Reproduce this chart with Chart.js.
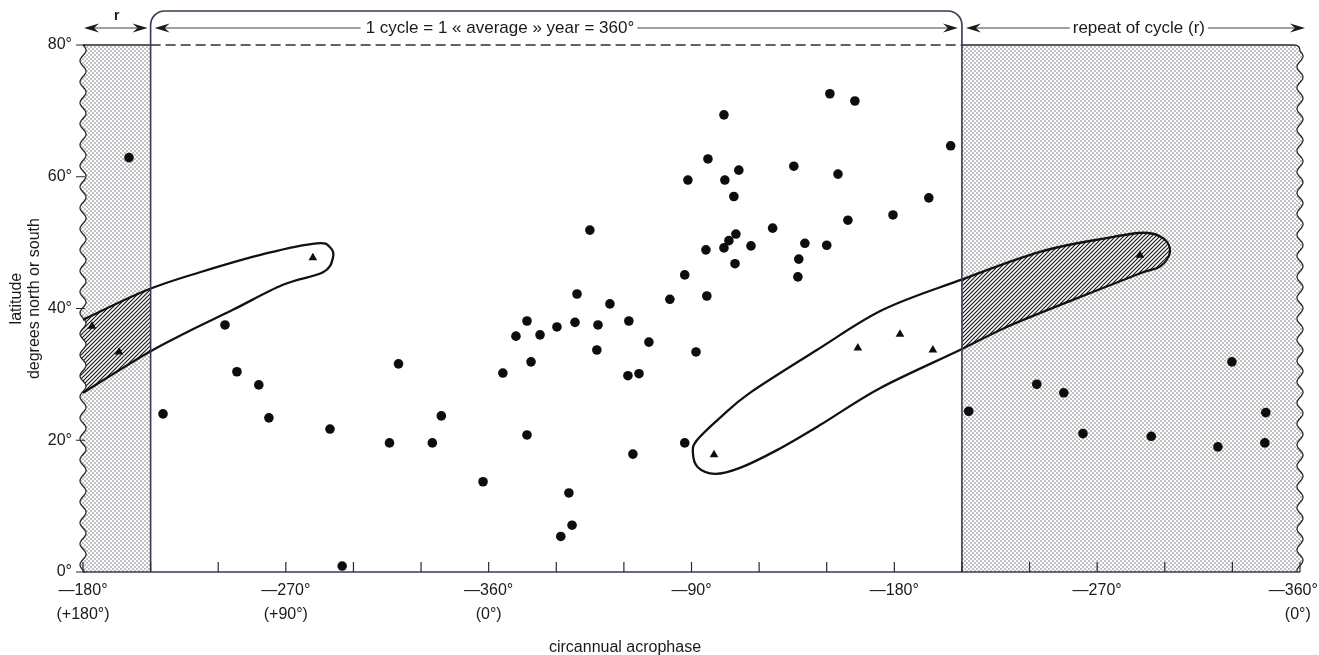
<!DOCTYPE html>
<html>
<head>
<meta charset="utf-8">
<script src="https://cdn.jsdelivr.net/npm/chart.js@4.4.0/dist/chart.umd.min.js"></script>
<style>
  html, body { margin: 0; padding: 0; background: #ffffff; }
  #wrap { width: 1319px; height: 655px; }
</style>
</head>
<body>
<div id="wrap"><canvas id="chart" width="1319" height="655"></canvas></div>
<script>
// Acrophase is plotted on a running scale: 180 = -180°, 360 = -360° (0°), 450 = -90°, 720 = -360° again.
// Circles: individual studies (acrophase, latitude in degrees north or south)
const circlePhase = [
  200.4,
  215.5, 243.0, 248.3, 258.0, 262.5, 289.6, 295.0, 316.0, 320.0, 335.0, 339.0, 357.5,
  366.3, 372.1, 377.0, 377.0, 378.8, 382.8, 390.3, 392.0, 395.6, 397.0, 398.3, 399.2,
  404.9, 408.0, 408.5, 413.8, 421.8, 422.2, 424.0, 426.7, 431.1, 440.4, 447.0, 447.0,
  448.4, 452.0, 456.4, 456.8, 457.3, 464.4, 464.4, 464.8, 466.6, 468.8, 469.3, 469.7,
  471.0, 476.4, 486.0, 495.4, 497.2, 497.6, 500.3, 510.0, 511.4, 515.0, 519.4, 522.5,
  539.4, 555.3, 565.0,
  573.0, 603.2, 615.2, 623.7, 654.0, 683.6, 689.8, 704.8, 704.4
];
const circleLat = [
  62.9,
  24.0, 37.5, 30.4, 28.4, 23.4, 21.7, 0.9, 19.6, 31.6, 19.6, 23.7, 13.7,
  30.2, 35.8, 38.1, 20.8, 31.9, 36.0, 37.2, 5.4, 12.0, 7.1, 37.9, 42.2,
  51.9, 33.7, 37.5, 40.7, 29.8, 38.1, 17.9, 30.1, 34.9, 41.4, 45.1, 19.6,
  59.5, 33.4, 48.9, 41.9, 62.7, 69.4, 49.2, 59.5, 50.3, 57.0, 46.8, 51.3,
  61.0, 49.5, 52.2, 61.6, 44.8, 47.5, 49.9, 49.6, 72.6, 60.4, 53.4, 71.5,
  54.2, 56.8, 64.7,
  24.4, 28.5, 27.2, 21.0, 20.6, 19.0, 31.9, 24.2, 19.6
];

// Triangles: the separate group enclosed by the loops
const trianglePhase = [184.0, 196.0, 282.0, 460.0, 523.8, 542.5, 557.1, 649.0];
const triangleLat   = [37.3, 33.4, 47.7, 17.8, 34.0, 36.1, 33.7, 48.1];

// Loop enclosing the triangles, western part (open at the left edge of the plot)
const loopWestPhase = [180.0, 208.4, 231.9, 261.6, 283.8, 289.6, 290.9, 286.5, 268.7, 246.5, 226.1, 208.4, 180.0];
const loopWestLat   = [38.3, 42.8, 45.5, 48.4, 49.9, 49.3, 47.7, 45.5, 43.6, 39.8, 36.4, 33.2, 27.2];

// Loop enclosing the triangles, eastern part (closed)
const loopEastPhase = [450.6, 452.4, 462.6, 475.9, 505.6, 534.9, 569.1, 604.6, 634.3, 651.0, 659.5, 662.3, 658.0, 648.0, 619.2, 589.9, 569.1, 533.6, 507.0, 487.9, 471.5, 460.4, 452.8];
const loopEastLat   = [18.2, 20.0, 23.4, 27.2, 33.7, 39.8, 44.3, 48.6, 50.7, 51.5, 50.6, 48.6, 46.4, 45.2, 41.3, 37.2, 33.7, 27.9, 22.3, 18.5, 15.8, 14.9, 15.9];

// Axis ticks and labels (the last one carries trailing spaces so it stays inside the canvas)
const phaseMin = 180, phaseMax = 720, phaseStep = 30;
const cycleStart = 210, cycleEnd = 570;
const phaseTickValues = [180, 270, 360, 450, 540, 630, 720];
const phaseTickLabels = [
  ['\u2014180\u00b0', '(+180\u00b0)'],
  ['\u2014270\u00b0', '(+90\u00b0)'],
  ['\u2014360\u00b0', '(0\u00b0)'],
  ['\u201490\u00b0'],
  ['\u2014180\u00b0'],
  ['\u2014270\u00b0'],
  ['\u2014360\u00b0\u00a0\u00a0\u00a0', '(0\u00b0)\u00a0']
];
const latTicks = [0, 20, 40, 60, 80];
const cycleText = '1 cycle = 1 \u00ab average \u00bb year = 360\u00b0';
const repeatText = 'repeat of cycle (r)';
const xTitle = 'circannual acrophase';
const yTitle = ['latitude', 'degrees north or south'];

const FONT = '"Liberation Sans", Arial, Helvetica, sans-serif';
const INK = '#1a1a1a';
const FRAME = '#343a4e';

function toPoints(xs, ys) { return xs.map((v, i) => ({ x: v, y: ys[i] })); }

// Fill patterns: stipple for the repeated ranges, diagonal hatch where the loop crosses them
function makeStipple() {
  const c = document.createElement('canvas'); c.width = 4; c.height = 4;
  const g = c.getContext('2d');
  g.fillStyle = '#ffffff'; g.fillRect(0, 0, 4, 4);
  g.fillStyle = '#62646f';
  g.beginPath(); g.arc(1, 1, 0.72, 0, Math.PI * 2); g.fill();
  g.beginPath(); g.arc(3, 3, 0.72, 0, Math.PI * 2); g.fill();
  return c;
}
function makeHatch() {
  const s = 4;
  const c = document.createElement('canvas'); c.width = s; c.height = s;
  const g = c.getContext('2d');
  g.fillStyle = '#ffffff'; g.fillRect(0, 0, s, s);
  g.strokeStyle = '#1a1a1a'; g.lineWidth = 1.2;
  g.beginPath();
  g.moveTo(0, s); g.lineTo(s, 0);
  g.moveTo(-1, 1); g.lineTo(1, -1);
  g.moveTo(s - 1, s + 1); g.lineTo(s + 1, s - 1);
  g.stroke();
  return c;
}

// Smooth curve through points (Catmull-Rom as cubic Béziers)
function splinePath(ctx, pts, closed) {
  const n = pts.length;
  const get = i => closed ? pts[(i + n) % n] : pts[Math.max(0, Math.min(n - 1, i))];
  ctx.moveTo(pts[0].x, pts[0].y);
  const segs = closed ? n : n - 1;
  for (let i = 0; i < segs; i++) {
    const p0 = get(i - 1), p1 = get(i), p2 = get(i + 1), p3 = get(i + 2);
    const k = 1 / 6;
    ctx.bezierCurveTo(
      p1.x + (p2.x - p0.x) * k, p1.y + (p2.y - p0.y) * k,
      p2.x - (p3.x - p1.x) * k, p2.y - (p3.y - p1.y) * k,
      p2.x, p2.y);
  }
  if (closed) ctx.closePath();
}

const WAVE_A = 3, WAVE_P = 21;
function wave(yy, y0) { return WAVE_A * Math.sin(2 * Math.PI * (yy - y0) / WAVE_P); }

function westRegion(ctx, X, Y) {
  const x0 = X(phaseMin), x1 = X(cycleStart), y0 = Y(80), y1 = Y(0);
  ctx.beginPath();
  ctx.moveTo(x1, y0);
  ctx.lineTo(x0, y0);
  for (let yy = y0; yy <= y1; yy += 1) ctx.lineTo(x0 + wave(yy, y0), yy);
  ctx.lineTo(x1, y1);
  ctx.closePath();
}
function eastRegion(ctx, X, Y) {
  const x0 = X(cycleEnd), x1 = X(phaseMax), y0 = Y(80), y1 = Y(0), r = 6;
  ctx.beginPath();
  ctx.moveTo(x0, y0);
  ctx.lineTo(x1 - r, y0);
  ctx.quadraticCurveTo(x1, y0, x1, y0 + r);
  for (let yy = y0 + r; yy <= y1; yy += 1) ctx.lineTo(x1 + wave(yy, y0 + r), yy);
  ctx.lineTo(x0, y1);
  ctx.closePath();
}

function arrowHead(ctx, x, y, dir) {
  // dir = +1 points right, -1 points left
  ctx.beginPath();
  ctx.moveTo(x, y);
  ctx.lineTo(x - dir * 15, y - 4.5);
  ctx.lineTo(x - dir * 10, y);
  ctx.lineTo(x - dir * 15, y + 4.5);
  ctx.closePath();
  ctx.fill();
}

let stipple = null, hatch = null;

const backdrop = {
  id: 'backdrop',
  beforeDatasetsDraw(chart) {
    const ctx = chart.ctx;
    const xs = chart.scales.x, ys = chart.scales.y;
    const X = v => xs.getPixelForValue(v), Y = v => ys.getPixelForValue(v);
    const { top, bottom } = chart.chartArea;
    if (!stipple) { stipple = ctx.createPattern(makeStipple(), 'repeat'); hatch = ctx.createPattern(makeHatch(), 'repeat'); }

    ctx.save();
    // stippled repeat ranges
    ctx.fillStyle = stipple;
    westRegion(ctx, X, Y); ctx.fill();
    eastRegion(ctx, X, Y); ctx.fill();

    const west = toPoints(loopWestPhase, loopWestLat).map(p => ({ x: X(p.x), y: Y(p.y) }));
    const east = toPoints(loopEastPhase, loopEastLat).map(p => ({ x: X(p.x), y: Y(p.y) }));

    // hatched part of the loops inside the repeat ranges
    ctx.save();
    westRegion(ctx, X, Y); ctx.clip();
    ctx.beginPath();
    splinePath(ctx, west, false);
    const edge = X(phaseMin) - 10;
    ctx.lineTo(edge, west[west.length - 1].y);
    ctx.lineTo(edge, west[0].y);
    ctx.closePath();
    ctx.fillStyle = hatch; ctx.fill();
    ctx.restore();

    ctx.save();
    eastRegion(ctx, X, Y); ctx.clip();
    ctx.beginPath(); splinePath(ctx, east, true);
    ctx.fillStyle = hatch; ctx.fill();
    ctx.restore();

    // wavy outer edges
    ctx.strokeStyle = '#2a2a2a'; ctx.lineWidth = 1.3;
    const y0 = Y(80), y1 = Y(0);
    ctx.beginPath();
    for (let yy = y0; yy <= y1; yy += 1) {
      const px = X(phaseMin) + wave(yy, y0);
      if (yy === y0) ctx.moveTo(px, yy); else ctx.lineTo(px, yy);
    }
    ctx.stroke();
    ctx.beginPath();
    const xr = X(phaseMax);
    ctx.moveTo(X(cycleEnd), y0);
    ctx.lineTo(xr - 6, y0);
    ctx.quadraticCurveTo(xr, y0, xr, y0 + 6);
    for (let yy = y0 + 6; yy <= y1; yy += 1) ctx.lineTo(xr + wave(yy, y0 + 6), yy);
    ctx.stroke();
    ctx.beginPath(); ctx.moveTo(X(phaseMin), y0); ctx.lineTo(X(cycleStart), y0); ctx.stroke();

    // loop outlines
    ctx.strokeStyle = '#111111'; ctx.lineWidth = 2.3; ctx.lineJoin = 'round';
    ctx.beginPath(); splinePath(ctx, west, false); ctx.stroke();
    ctx.beginPath(); splinePath(ctx, east, true); ctx.stroke();

    // cycle frame with rounded top corners
    const boxTop = top - 34, rad = 14;
    const xa = X(cycleStart), xb = X(cycleEnd);
    ctx.strokeStyle = FRAME; ctx.lineWidth = 1.6;
    ctx.beginPath();
    ctx.moveTo(xa, bottom);
    ctx.lineTo(xa, boxTop + rad);
    ctx.arcTo(xa, boxTop, xa + rad, boxTop, rad);
    ctx.lineTo(xb - rad, boxTop);
    ctx.arcTo(xb, boxTop, xb, boxTop + rad, rad);
    ctx.lineTo(xb, bottom);
    ctx.stroke();

    // dashed 80° line across the cycle
    ctx.setLineDash([10, 5]); ctx.lineWidth = 1.3; ctx.strokeStyle = '#2c2f3c';
    ctx.beginPath(); ctx.moveTo(xa, Y(80)); ctx.lineTo(xb, Y(80)); ctx.stroke();
    ctx.setLineDash([]);

    // x axis line and inward tick marks
    ctx.strokeStyle = FRAME; ctx.lineWidth = 1.7;
    ctx.beginPath(); ctx.moveTo(X(phaseMin), bottom); ctx.lineTo(X(phaseMax), bottom); ctx.stroke();
    ctx.lineWidth = 1.2; ctx.strokeStyle = '#2a2a2a';
    ctx.beginPath();
    xs.ticks.forEach(t => { const px = X(t.value); ctx.moveTo(px, bottom); ctx.lineTo(px, bottom - 10); });
    ctx.stroke();
    // y tick marks on the wavy edge
    ctx.beginPath();
    latTicks.forEach(v => { const py = Y(v); ctx.moveTo(X(phaseMin) - 7, py); ctx.lineTo(X(phaseMin) + 2, py); });
    ctx.stroke();
    ctx.restore();
  },
  afterDraw(chart) {
    const ctx = chart.ctx;
    const xs = chart.scales.x, ys = chart.scales.y;
    const X = v => xs.getPixelForValue(v);
    const { top, bottom } = chart.chartArea;
    const ay = top - 17;
    ctx.save();
    ctx.textBaseline = 'middle';
    ctx.fillStyle = INK;
    ctx.strokeStyle = '#3c4058'; ctx.lineWidth = 1.2;

    // r : width of the repeated range
    const r0 = X(phaseMin) + 1, r1 = X(cycleStart) - 3;
    ctx.beginPath(); ctx.moveTo(r0 + 8, ay); ctx.lineTo(r1 - 8, ay); ctx.stroke();
    arrowHead(ctx, r0, ay, -1); arrowHead(ctx, r1, ay, 1);
    ctx.textAlign = 'center';
    ctx.font = 'bold 14px ' + FONT;
    ctx.fillText('r', (r0 + r1) / 2 + 1, ay - 12);

    // one full cycle
    ctx.font = '17px ' + FONT;
    const c0 = X(cycleStart) + 4, c1 = X(cycleEnd) - 4;
    const cx = X(365);
    const cw = ctx.measureText(cycleText).width;
    ctx.fillText(cycleText, cx, ay);
    ctx.beginPath();
    ctx.moveTo(c0 + 8, ay); ctx.lineTo(cx - cw / 2 - 5, ay);
    ctx.moveTo(cx + cw / 2 + 3, ay); ctx.lineTo(c1 - 8, ay);
    ctx.stroke();
    arrowHead(ctx, c0, ay, -1); arrowHead(ctx, c1, ay, 1);

    // repeat of cycle
    const e0 = X(cycleEnd) + 4, e1 = X(phaseMax) + 5;
    const ex = X(648.5);
    const ew = ctx.measureText(repeatText).width;
    ctx.fillText(repeatText, ex, ay);
    ctx.beginPath();
    ctx.moveTo(e0 + 8, ay); ctx.lineTo(ex - ew / 2 - 3, ay);
    ctx.moveTo(ex + ew / 2 + 3, ay); ctx.lineTo(e1 - 8, ay);
    ctx.stroke();
    arrowHead(ctx, e0, ay, -1); arrowHead(ctx, e1, ay, 1);

    // axis titles
    ctx.font = '16px ' + FONT;
    ctx.fillText(xTitle, X(420.5), bottom + 76);
    ctx.save();
    ctx.translate(17, ys.getPixelForValue(41.5));
    ctx.rotate(-Math.PI / 2);
    ctx.fillText(yTitle[0], 0, 0);
    ctx.fillText(yTitle[1], 0, 18);
    ctx.restore();
    ctx.restore();
  }
};

new Chart(document.getElementById('chart'), {
  type: 'scatter',
  data: {
    datasets: [
      {
        label: 'circles',
        data: toPoints(circlePhase, circleLat),
        pointStyle: 'circle',
        pointRadius: 4.8,
        pointHoverRadius: 4.8,
        backgroundColor: '#0d0d0d',
        borderColor: '#0d0d0d',
        borderWidth: 0
      },
      {
        label: 'triangles',
        data: toPoints(trianglePhase, triangleLat),
        pointStyle: 'triangle',
        pointRadius: 5,
        pointHoverRadius: 5,
        backgroundColor: '#0d0d0d',
        borderColor: '#0d0d0d',
        borderWidth: 0
      }
    ]
  },
  options: {
    responsive: false,
    animation: false,
    devicePixelRatio: 1,
    layout: { padding: { top: 45, right: 19, left: 0, bottom: 0 } },
    plugins: { legend: { display: false }, tooltip: { enabled: false } },
    scales: {
      x: {
        type: 'linear',
        min: phaseMin,
        max: phaseMax,
        afterBuildTicks: s => {
          const t = [];
          for (let v = phaseMin; v <= phaseMax; v += phaseStep) t.push({ value: v });
          s.ticks = t;
        },
        afterFit: s => { s.height = 83; s.paddingLeft = 0; s.paddingRight = 0; },
        grid: { display: false },
        border: { display: false },
        ticks: {
          autoSkip: false,
          maxRotation: 0,
          padding: -1,
          color: INK,
          font: { family: FONT, size: 16, lineHeight: 1.5 },
          callback: v => {
            const i = phaseTickValues.indexOf(v);
            return i >= 0 ? phaseTickLabels[i] : '';
          }
        }
      },
      y: {
        min: 0,
        max: 80,
        afterBuildTicks: s => { s.ticks = latTicks.map(v => ({ value: v })); },
        afterFit: s => { s.width = 83; s.paddingTop = 0; s.paddingBottom = 0; },
        grid: { display: false },
        border: { display: false },
        ticks: {
          padding: 3,
          color: INK,
          font: { family: FONT, size: 16 },
          callback: v => v + '\u00b0'
        }
      }
    }
  },
  plugins: [backdrop]
});
</script>
</body>
</html>
